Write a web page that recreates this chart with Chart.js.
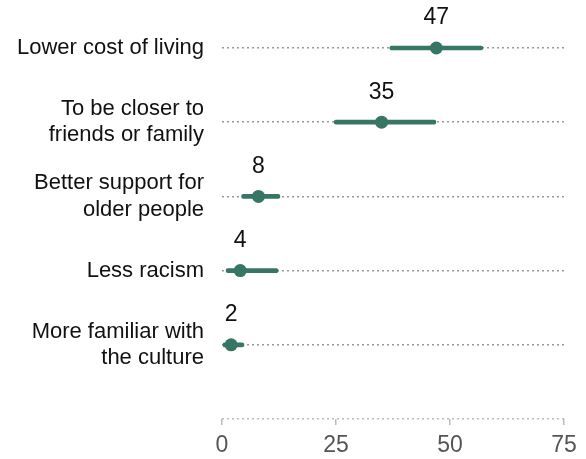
<!DOCTYPE html>
<html><head><meta charset="utf-8">
<script src="https://cdn.jsdelivr.net/npm/chart.js@4"></script>
<style>html,body{margin:0;padding:0;background:#fff}#wrap{width:586px;height:459px}</style>
</head><body><div id="wrap"><canvas id="c"></canvas></div>
<script>
const categories = [["Lower cost of living"],["To be closer to","friends or family"],["Better support for","older people"],["Less racism"],["More familiar with","the culture"],""];
const values = [47, 35, 8, 4, 2, null];
const lows = [36.8, 24.6, 4.3, 0.9, 0.2, null];
const highs = [57.2, 46.9, 12.7, 12.3, 4.8, null];
const xTicks = [0, 25, 50, 75];

const green = '#377665';
const ranges = lows.map((l, i) => l === null ? null : [l, highs[i]]);
const FONT = '"Liberation Sans", Arial, sans-serif';

const labelPlugin = {
  id: 'valLabels',
  afterDatasetsDraw(chart) {
    const meta = chart.getDatasetMeta(1);
    const ctx = chart.ctx;
    ctx.save();
    ctx.font = '23px ' + FONT;
    ctx.fillStyle = '#111';
    ctx.textAlign = 'center';
    ctx.textBaseline = 'middle';
    meta.data.forEach((pt, i) => {
      if (values[i] === null) return;
      ctx.fillText(String(values[i]), pt.x, pt.y - 30);
    });
    ctx.restore();
  }
};

new Chart(document.getElementById('c'), {
  type: 'bar',
  data: {
    labels: categories,
    datasets: [
      { type: 'bar', data: ranges, backgroundColor: green, barThickness: 4, borderRadius: 2, borderSkipped: false, clip: false, order: 2 },
      { type: 'line', data: values, showLine: false, clip: false, pointRadius: 6.5, pointHoverRadius: 6.5, pointBackgroundColor: green, pointBorderColor: green, pointBorderWidth: 0, order: 1 }
    ]
  },
  options: {
    indexAxis: 'y',
    responsive: true,
    maintainAspectRatio: false,
    animation: false,
    events: [],
    layout: { padding: { top: 48, right: 22, left: 0, bottom: 0 } },
    plugins: { legend: { display: false }, tooltip: { enabled: false } },
    scales: {
      x: {
        type: 'linear', min: 0, max: 75,
        afterBuildTicks: s => { s.ticks = xTicks.map(v => ({ value: v })); },
        afterFit: s => { s.height = 40; },
        border: { display: false },
        grid: { display: true, drawOnChartArea: false, drawTicks: true, tickLength: 6, color: '#bbb', lineWidth: 1.5 },
        ticks: { padding: 7, color: '#555', font: { size: 23, family: FONT } }
      },
      y: {
        type: 'category', offset: false,
        afterFit: s => { s.width = 222; },
        border: { display: false, dash: [2, 3] },
        grid: { display: true, offset: false, drawTicks: false, color: ctx => ctx.index === 5 ? '#bbb' : '#999', lineWidth: 1.5 },
        ticks: { padding: 18, color: '#111', font: { size: 22, family: FONT, lineHeight: 1.2 } }
      }
    }
  },
  plugins: [labelPlugin]
});
</script></body></html>
